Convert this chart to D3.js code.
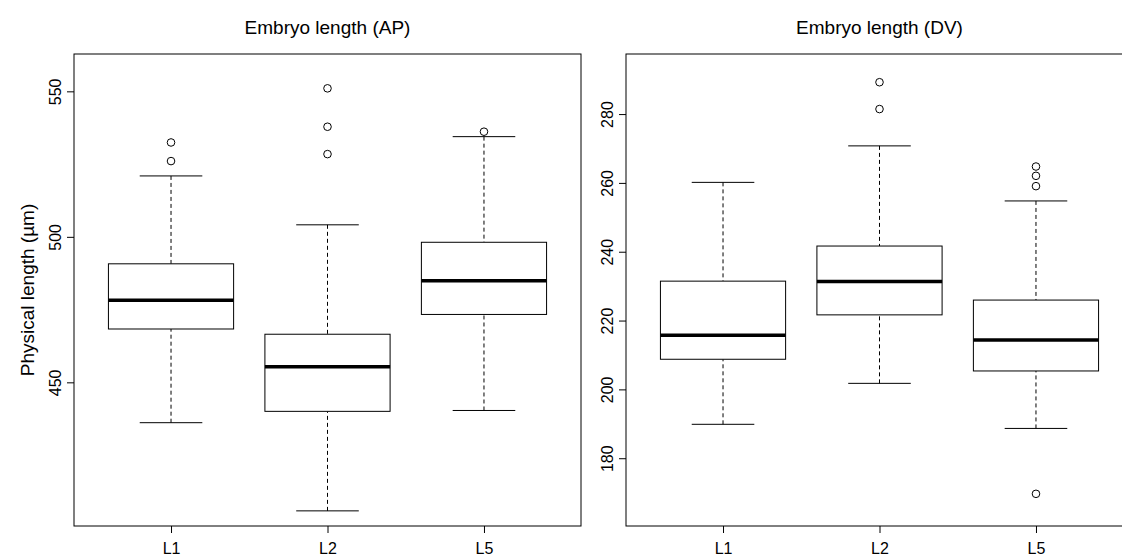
<!DOCTYPE html>
<html>
<head>
<meta charset="utf-8">
<script src="https://cdn.jsdelivr.net/npm/d3@7"></script>
<style>
html,body{margin:0;padding:0;background:#fff;}
svg{display:block;}
text{font-family:"Liberation Sans",Arial,Helvetica,sans-serif;fill:#000;}
</style>
</head>
<body>
<svg id="chart" width="1122" height="560"></svg>
<script>
// ---- data ----
const categories = ["L1", "L2", "L5"];
// [lower whisker, Q1, median, Q3, upper whisker]
const apStats = [
  [436.3, 468.5, 478.4, 490.9, 521.1],
  [406.0, 440.2, 455.5, 466.7, 504.3],
  [440.5, 473.5, 485.1, 498.3, 534.6]
];
const apOutliers = [
  [526.2, 532.6],
  [528.6, 538.0, 551.2],
  [536.3]
];
const apTicks = [450, 500, 550];

const dvStats = [
  [190.0, 208.9, 215.9, 231.6, 260.3],
  [201.9, 221.8, 231.5, 241.8, 270.9],
  [188.8, 205.5, 214.5, 226.1, 254.9]
];
const dvOutliers = [
  [],
  [281.6, 289.4],
  [169.8, 259.2, 262.2, 264.9]
];
const dvTicks = [180, 200, 220, 240, 260, 280];

const titles = ["Embryo length (AP)", "Embryo length (DV)"];
const yLabel = "Physical length (\u00b5m)";

// ---- layout ----
const svg = d3.select("#chart");
const panels = [
  {left: 74, right: 581, top: 54, bottom: 526, domain: [400.8, 563], stats: apStats, outs: apOutliers, ticks: apTicks, title: titles[0]},
  {left: 626, right: 1133, top: 54, bottom: 526, domain: [160.45, 297.6], stats: dvStats, outs: dvOutliers, ticks: dvTicks, title: titles[1]}
];

panels.forEach((p, pi) => {
  const x = d3.scaleLinear().domain([0.38, 3.62]).range([p.left, p.right]);
  const y = d3.scaleLinear().domain(p.domain).range([p.bottom, p.top]);
  const unit = x(1) - x(0);
  const g = svg.append("g");

  categories.forEach((c, i) => {
    const cx = x(i + 1);
    const s = p.stats[i];
    const bw = 0.4 * unit, sw = 0.2 * unit;
    g.append("line").attr("x1", cx).attr("x2", cx).attr("y1", y(s[0])).attr("y2", y(s[1]))
      .attr("stroke", "#000").attr("stroke-width", 1).attr("stroke-dasharray", "4,3");
    g.append("line").attr("x1", cx).attr("x2", cx).attr("y1", y(s[4])).attr("y2", y(s[3]))
      .attr("stroke", "#000").attr("stroke-width", 1).attr("stroke-dasharray", "4,3");
    [s[0], s[4]].forEach(v => {
      g.append("line").attr("x1", cx - sw).attr("x2", cx + sw).attr("y1", y(v)).attr("y2", y(v))
        .attr("stroke", "#000").attr("stroke-width", 1);
    });
    g.append("rect").attr("x", cx - bw).attr("width", 2 * bw)
      .attr("y", y(s[3])).attr("height", y(s[1]) - y(s[3]))
      .attr("fill", "#fff").attr("stroke", "#000").attr("stroke-width", 1);
    g.append("line").attr("x1", cx - bw).attr("x2", cx + bw).attr("y1", y(s[2])).attr("y2", y(s[2]))
      .attr("stroke", "#000").attr("stroke-width", 3.5);
    p.outs[i].forEach(v => {
      g.append("circle").attr("cx", cx).attr("cy", y(v)).attr("r", 3.8)
        .attr("fill", "none").attr("stroke", "#000").attr("stroke-width", 1);
    });
  });

  g.append("rect").attr("x", p.left).attr("y", p.top)
    .attr("width", p.right - p.left).attr("height", p.bottom - p.top)
    .attr("fill", "none").attr("stroke", "#000").attr("stroke-width", 1);

  const ya = g.append("g").attr("transform", `translate(${p.left},0)`)
    .call(d3.axisLeft(y).tickValues(p.ticks).tickSize(7).tickFormat(d3.format("d")));
  ya.select(".domain").remove();
  ya.selectAll("line").attr("stroke", "#000");
  ya.selectAll(".tick").attr("transform", null);
  ya.selectAll(".tick line").attr("y1", d => y(d)).attr("y2", d => y(d)).attr("x2", -7);
  ya.selectAll("text")
    .attr("transform", d => `translate(${-13},${y(d)}) rotate(-90)`)
    .attr("x", 0).attr("y", 0).attr("dy", 0)
    .attr("text-anchor", "middle")
    .style("font-size", "16px")
    .style("font-family", '"Liberation Sans",Arial,sans-serif')
    .attr("fill", "#000");

  const xa = g.append("g").attr("transform", `translate(0,${p.bottom})`)
    .call(d3.axisBottom(x).tickValues([1, 2, 3]).tickSize(7).tickFormat((d, i) => categories[i]));
  xa.select(".domain").remove();
  xa.selectAll("line").attr("stroke", "#000");
  xa.selectAll("text").attr("y", 17).attr("dy", "0.71em")
    .style("font-size", "16px")
    .style("font-family", '"Liberation Sans",Arial,sans-serif')
    .attr("fill", "#000");

  svg.append("text").attr("x", (p.left + p.right) / 2).attr("y", 34)
    .attr("text-anchor", "middle").style("font-size", "19px").text(p.title);
});

svg.append("text").attr("transform", `translate(34,${(54 + 526) / 2}) rotate(-90)`)
  .attr("text-anchor", "middle").style("font-size", "19px").text(yLabel);
</script>
</body>
</html>
